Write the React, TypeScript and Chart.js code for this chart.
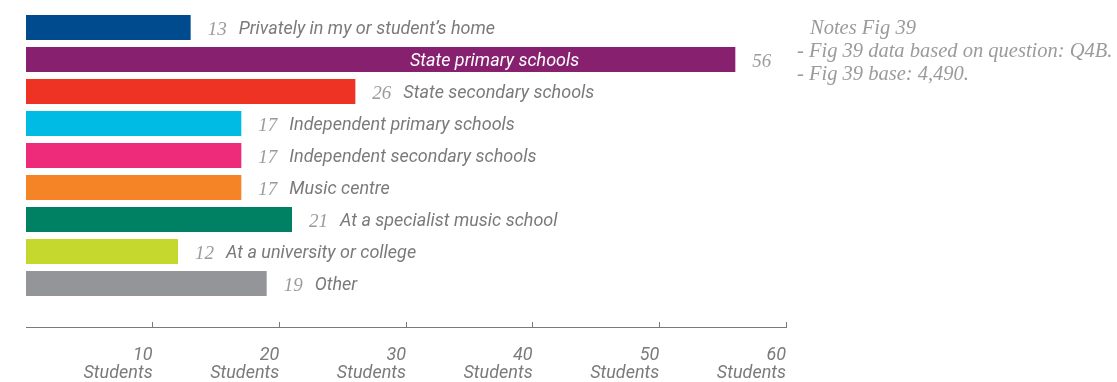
import React, { useEffect, useRef } from "react";
import { Chart, registerables } from "chart.js";

Chart.register(...registerables);

const categories = [
  "Privately in my or student’s home",
  "State primary schools",
  "State secondary schools",
  "Independent primary schools",
  "Independent secondary schools",
  "Music centre",
  "At a specialist music school",
  "At a university or college",
  "Other",
];
const values = [13, 56, 26, 17, 17, 17, 21, 12, 19];
const colors = [
  "#004b8d",
  "#87206f",
  "#ee3224",
  "#00bce4",
  "#ee2a7b",
  "#f58427",
  "#008163",
  "#c4d82e",
  "#939598",
];
const xTicks = [0, 10, 20, 30, 40, 50, 60];
const tickUnit = "Students";
const notes = [
  "Notes Fig 39",
  "- Fig 39 data based on question: Q4B.",
  "- Fig 39 base: 4,490.",
];

const labelPlugin = {
  id: "barLabels",
  afterDatasetsDraw(chart: any) {
    const ctx = chart.ctx;
    const meta = chart.getDatasetMeta(0);
    const xs = chart.scales.x;
    meta.data.forEach((bar: any, i: number) => {
      const end = xs.getPixelForValue(values[i]);
      const y = bar.y;
      ctx.save();
      ctx.textBaseline = "middle";
      ctx.textAlign = "left";
      ctx.font = 'italic 19px "Liberation Serif"';
      ctx.fillStyle = "#9b9b9b";
      ctx.fillText(String(values[i]), end + 17, y + 2);
      ctx.font = "italic 18px Roboto";
      if (values[i] > 40) {
        ctx.fillStyle = "#ffffff";
        ctx.textAlign = "right";
        ctx.fillText(categories[i], end - 156, y + 2);
      } else {
        ctx.fillStyle = "#7a7a7a";
        ctx.fillText(categories[i], end + 48, y + 2);
      }
      ctx.restore();
    });
  },
};

export default function App() {
  const canvasRef = useRef<HTMLCanvasElement | null>(null);

  useEffect(() => {
    if (!canvasRef.current) return;
    const chart = new Chart(canvasRef.current, {
      type: "bar",
      data: {
        labels: categories,
        datasets: [
          {
            data: values,
            backgroundColor: colors,
            borderWidth: 0,
            barPercentage: 0.78,
            categoryPercentage: 1,
          },
        ],
      },
      options: {
        indexAxis: "y",
        animation: false,
        responsive: true,
        maintainAspectRatio: false,
        layout: { padding: { left: 26, right: 331, top: 11.5, bottom: 0 } },
        plugins: {
          legend: { display: false },
          tooltip: { enabled: false },
        },
        scales: {
          y: { display: false, offset: true },
          gap: {
            type: "linear",
            position: "bottom",
            weight: 0,
            display: true,
            ticks: { display: false },
            grid: { display: false, drawTicks: false },
            border: { display: false },
            afterFit: (s: any) => {
              s.height = 27.5;
            },
          },
          x: {
            type: "linear",
            position: "bottom",
            weight: 1,
            min: 0,
            max: 60,
            afterBuildTicks: (s: any) => {
              s.ticks = xTicks.map((v) => ({ value: v }));
            },
            afterFit: (s: any) => {
              s.height = 55;
            },
            grid: {
              drawOnChartArea: false,
              drawTicks: true,
              tickLength: -5,
              lineWidth: 1,
              color: (c: any) =>
                c.tick && c.tick.value === 0 ? "rgba(0,0,0,0)" : "#7a7a7a",
            },
            border: { display: true, color: "#7a7a7a", width: 1 },
            ticks: {
              autoSkip: false,
              maxRotation: 0,
              align: "end",
              padding: 25,
              color: "#7a7a7a",
              font: { family: "Roboto", style: "italic", size: 18, lineHeight: 0.97 },
              callback: (v: any) => (v === 0 ? "" : [String(v), tickUnit]),
            },
          },
        },
      } as any,
      plugins: [labelPlugin],
    });
    return () => chart.destroy();
  }, []);

  return (
    <div
      style={{
        position: "fixed",
        left: 0,
        top: 0,
        width: 1117,
        height: 382,
        background: "#fff",
      }}
    >
      <div style={{ position: "absolute", left: 0, top: 0, width: 1117, height: 382 }}>
        <canvas ref={canvasRef} />
      </div>
      <div
        style={{
          position: "absolute",
          left: 797,
          top: 16,
          fontFamily: '"Liberation Serif", serif',
          fontStyle: "italic",
          fontSize: 20.5,
          lineHeight: "23px",
          color: "#9b9b9b",
          whiteSpace: "nowrap",
        }}
      >
        {notes.map((n, i) => (
          <div key={i} style={{ paddingLeft: i === 0 ? 13 : 0 }}>
            {n}
          </div>
        ))}
      </div>
    </div>
  );
}
